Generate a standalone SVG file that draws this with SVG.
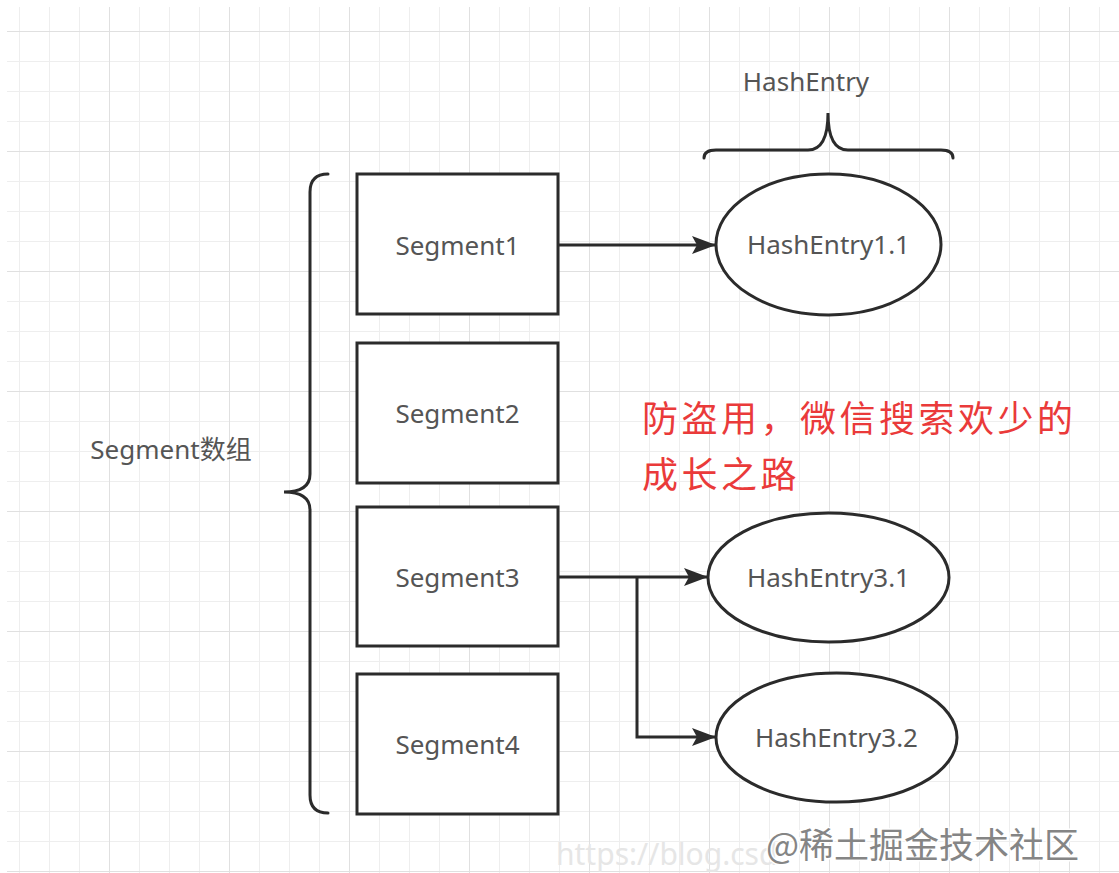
<svg xmlns="http://www.w3.org/2000/svg" width="1119" height="873" viewBox="0 0 1119 873">
  <style>
    .box { fill: #ffffff; stroke: #2b2b2b; stroke-width: 3; }
    .ell { fill: #ffffff; stroke: #2b2b2b; stroke-width: 3; }
    .lbl { font-family: "Noto Sans", "Noto Sans CJK SC", sans-serif; font-size: 26px; fill: #555555; text-anchor: middle; }
    .edge { fill: none; stroke: #2b2b2b; stroke-width: 3; }
    .brace { fill: none; stroke: #2b2b2b; stroke-width: 3; stroke-linecap: round; }
    .red { font-family: "Noto Sans CJK SC", sans-serif; font-size: 36px; letter-spacing: 3.5px; fill: #ea3a3a; }
  </style>
  <defs>
    <pattern id="grid" patternUnits="userSpaceOnUse" x="-11" y="31" width="120" height="120">
      <rect x="0" y="0" width="120" height="120" fill="#ffffff"/>
      <rect x="30" y="0" width="1" height="120" fill="#eeeeee"/>
      <rect x="60" y="0" width="1" height="120" fill="#eeeeee"/>
      <rect x="90" y="0" width="1" height="120" fill="#eeeeee"/>
      <rect x="0" y="30" width="120" height="1" fill="#eeeeee"/>
      <rect x="0" y="60" width="120" height="1" fill="#eeeeee"/>
      <rect x="0" y="90" width="120" height="1" fill="#eeeeee"/>
      <rect x="0" y="0" width="1" height="120" fill="#e0e0e0"/>
      <rect x="0" y="0" width="120" height="1" fill="#e0e0e0"/>
    </pattern>
    <marker id="arrow" markerUnits="userSpaceOnUse" markerWidth="26" markerHeight="20" refX="24" refY="9" orient="auto">
      <path d="M0,0 L24,9 L0,18 L5,9 Z" fill="#2b2b2b"/>
    </marker>
  </defs>

  <rect x="0" y="0" width="1119" height="873" fill="#ffffff"/>
  <rect x="7" y="7" width="1112" height="866" fill="url(#grid)"/>

  <g id="brace-segments">
    <path class="brace" d="M328,174 Q310,174 310,192 L310,474 Q310,492 284,492 Q310,492 310,510 L310,795 Q310,813 328,813"/>
    <text class="lbl" x="171" y="459">Segment数组</text>
  </g>

  <g id="brace-hashentry">
    <path class="brace" d="M704,158 Q704,150 716,150 L808,150 Q828,150 828,113 Q828,150 848,150 L941,150 Q953,150 953,158"/>
    <text class="lbl" x="806" y="91">HashEntry</text>
  </g>

  <g id="connectors">
    <path class="edge" d="M558,245 L716,245" marker-end="url(#arrow)"/>
    <path class="edge" d="M558,577 L708,577" marker-end="url(#arrow)"/>
    <path class="edge" d="M637,577 L637,737 L716,737" marker-end="url(#arrow)"/>
  </g>

  <g id="segment1">
    <rect class="box" x="357" y="174" width="201" height="140"/>
    <text class="lbl" x="457.5" y="255">Segment1</text>
  </g>
  <g id="segment2">
    <rect class="box" x="357" y="343" width="201" height="140"/>
    <text class="lbl" x="457.5" y="423">Segment2</text>
  </g>
  <g id="segment3">
    <rect class="box" x="357" y="507" width="201" height="139"/>
    <text class="lbl" x="457.5" y="587">Segment3</text>
  </g>
  <g id="segment4">
    <rect class="box" x="357" y="674" width="201" height="140"/>
    <text class="lbl" x="457.5" y="754">Segment4</text>
  </g>

  <g id="hashentry11">
    <ellipse class="ell" cx="828.5" cy="244.5" rx="112.5" ry="70.5"/>
    <text class="lbl" x="828.5" y="254">HashEntry1.1</text>
  </g>
  <g id="hashentry31">
    <ellipse class="ell" cx="828.5" cy="577.5" rx="120.5" ry="64.5"/>
    <text class="lbl" x="828.5" y="587">HashEntry3.1</text>
  </g>
  <g id="hashentry32">
    <ellipse class="ell" cx="836.5" cy="737.5" rx="120.5" ry="64.5"/>
    <text class="lbl" x="836.5" y="747">HashEntry3.2</text>
  </g>

  <g id="note">
    <text class="red" x="642" y="432">防盗用，微信搜索欢少的</text>
    <text class="red" x="642" y="488">成长之路</text>
  </g>

  <g id="watermark">
    <text x="556" y="865" font-family="Noto Sans, sans-serif" font-size="30" fill="#e6e6e6">https://blog.csd</text>
    <text x="766" y="858" font-family="Noto Sans CJK SC, sans-serif" font-size="35" fill="#858585" stroke="#ffffff" stroke-width="3" paint-order="stroke">@稀土掘金技术社区</text>
  </g>
</svg>
